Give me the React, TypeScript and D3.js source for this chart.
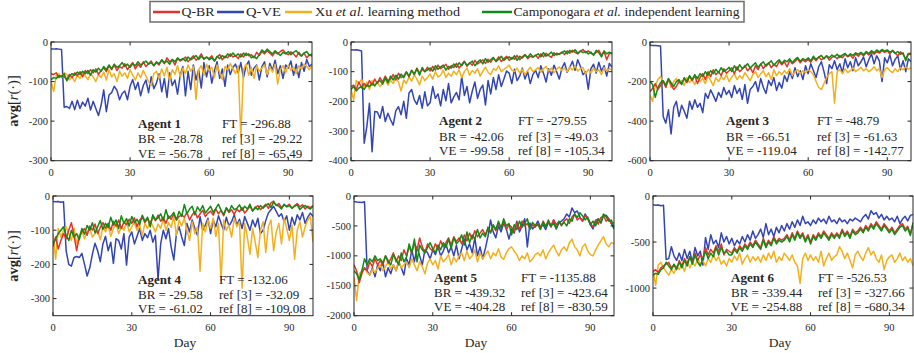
import React from 'react';
import * as d3 from 'd3';

// ---------------- data ----------------
const days = d3.range(100);
const xTicks = [0, 30, 60, 90];

// Agent 1
const a1BR = [-80,-82,-78,-90,-85,-88,-95,-82,-90,-78,-85,-75,-88,-72,-80,-70,-78,-68,-82,-72,-65,-75,-60,-70,-58,-72,-62,-66,-55,-70,-60,-52,-68,-56,-64,-50,-62,-55,-48,-60,-52,-58,-46,-55,-40,-50,-45,-58,-42,-48,-44,-38,-50,-42,-35,-46,-40,-30,-44,-38,-42,-35,-48,-38,-32,-45,-36,-40,-30,-38,-34,-42,-30,-38,-28,-35,-32,-40,-26,-34,-24,-30,-22,-28,-35,-26,-30,-24,-20,-28,-32,-25,-30,-38,-26,-35,-28,-40,-32,-36];
const a1Camp = [-95,-90,-92,-85,-88,-80,-98,-86,-80,-84,-76,-82,-74,-80,-72,-84,-70,-76,-66,-74,-62,-70,-58,-68,-56,-64,-60,-52,-62,-56,-64,-55,-60,-50,-58,-54,-48,-56,-52,-60,-50,-55,-45,-52,-48,-56,-44,-50,-40,-46,-42,-48,-38,-45,-40,-34,-44,-36,-42,-38,-45,-40,-48,-36,-42,-34,-40,-30,-36,-28,-36,-30,-38,-28,-34,-30,-40,-36,-42,-32,-20,-26,-18,-24,-30,-22,-28,-34,-26,-30,-24,-32,-26,-22,-30,-36,-28,-24,-34,-30];
const a1Xu = [-100,-125,-85,-80,-90,-78,-82,-96,-88,-100,-84,-92,-78,-86,-95,-80,-88,-100,-82,-90,-76,-96,-70,-88,-80,-100,-74,-86,-78,-92,-70,-84,-96,-78,-90,-72,-86,-100,-110,-80,-74,-92,-68,-86,-64,-98,-70,-82,-60,-88,-66,-80,-58,-74,-62,-145,-70,-60,-84,-56,-72,-64,-90,-58,-78,-95,-62,-70,-54,-68,-80,-60,-240,-70,-56,-84,-64,-92,-60,-74,-66,-58,-82,-62,-76,-56,-106,-70,-60,-78,-58,-72,-64,-80,-60,-68,-56,-62,-70,-58];
const a1VE = [-18,-18,-17,-18,-19,-165,-163,-168,-150,-171,-147,-168,-152,-162,-142,-172,-150,-168,-186,-160,-121,-176,-134,-128,-112,-122,-146,-130,-124,-146,-112,-95,-120,-102,-136,-110,-96,-128,-88,-118,-104,-80,-126,-92,-140,-78,-110,-96,-132,-84,-62,-136,-74,-120,-58,-96,-70,-116,-52,-88,-60,-104,-72,-50,-92,-68,-112,-58,-82,-64,-56,-78,-52,-90,-60,-48,-84,-66,-58,-96,-62,-50,-88,-54,-72,-46,-80,-60,-92,-58,-66,-48,-84,-56,-90,-52,-74,-44,-62,-56];

// Agent 2
const a2BR = [-150,-145,-160,-135,-155,-140,-150,-130,-145,-125,-140,-120,-135,-115,-130,-125,-110,-128,-105,-120,-115,-100,-118,-95,-110,-88,-105,-92,-100,-85,-98,-82,-95,-78,-90,-84,-75,-92,-80,-86,-72,-88,-76,-65,-82,-70,-78,-62,-74,-68,-60,-72,-58,-68,-55,-64,-50,-66,-56,-48,-62,-52,-58,-45,-60,-50,-42,-56,-48,-52,-44,-55,-40,-50,-38,-46,-52,-36,-44,-40,-34,-42,-30,-38,-28,-35,-40,-32,-25,-36,-30,-38,-42,-35,-28,-45,-32,-60,-38,-40];
const a2Camp = [-160,-150,-165,-155,-150,-160,-145,-150,-140,-148,-135,-130,-142,-120,-138,-115,-128,-112,-125,-108,-120,-102,-115,-96,-108,-90,-112,-86,-100,-94,-88,-98,-80,-92,-84,-78,-95,-82,-88,-74,-85,-70,-80,-66,-78,-72,-64,-80,-68,-60,-74,-56,-68,-60,-52,-66,-58,-48,-62,-54,-50,-58,-46,-62,-48,-54,-44,-52,-40,-50,-46,-40,-50,-36,-48,-42,-34,-46,-38,-42,-36,-30,-40,-28,-34,-26,-38,-30,-36,-32,-40,-34,-45,-28,-36,-50,-30,-40,-34,-38];
const a2Xu = [-160,-195,-130,-140,-125,-150,-135,-160,-130,-145,-135,-150,-140,-125,-145,-130,-140,-120,-135,-165,-128,-140,-118,-132,-110,-125,-145,-115,-130,-120,-108,-125,-100,-118,-112,-95,-120,-105,-115,-98,-110,-94,-120,-100,-88,-112,-96,-105,-90,-115,-98,-85,-102,-110,-90,-96,-80,-100,-92,-86,-78,-95,-100,-88,-104,-92,-110,-96,-85,-100,-94,-86,-102,-90,-82,-98,-88,-104,-92,-84,-96,-88,-100,-84,-94,-80,-98,-90,-86,-108,-92,-104,-88,-100,-94,-110,-86,-98,-90,-95];
const a2VE = [-26,-27,-26,-28,-30,-341,-285,-206,-370,-234,-236,-257,-217,-268,-240,-262,-280,-232,-218,-245,-200,-257,-172,-160,-195,-210,-180,-223,-168,-215,-205,-150,-190,-175,-215,-160,-198,-140,-205,-185,-170,-195,-116,-180,-150,-205,-165,-135,-190,-160,-145,-212,-130,-175,-120,-160,-110,-150,-125,-98,-105,-140,-92,-130,-115,-88,-125,-100,-140,-110,-95,-120,-80,-105,-135,-90,-112,-78,-100,-125,-88,-70,-102,-85,-65,-95,-60,-82,-110,-100,-159,-90,-75,-105,-68,-98,-80,-115,-72,-85];

// Agent 3
const a3BR = [-250,-235,-210,-240,-220,-200,-230,-190,-215,-240,-225,-200,-210,-185,-205,-175,-195,-170,-210,-180,-160,-190,-150,-175,-140,-165,-150,-170,-135,-158,-145,-130,-160,-125,-150,-138,-118,-145,-130,-155,-120,-140,-110,-135,-115,-105,-130,-112,-125,-98,-115,-100,-125,-92,-110,-98,-85,-105,-90,-100,-88,-102,-80,-95,-75,-90,-82,-70,-92,-78,-72,-85,-68,-80,-62,-75,-66,-82,-60,-72,-58,-70,-54,-66,-50,-62,-48,-56,-44,-52,-46,-60,-42,-55,-70,-50,-62,-85,-58,-65];
const a3Camp = [-200,-215,-280,-230,-205,-195,-220,-185,-205,-225,-200,-190,-215,-180,-200,-170,-190,-165,-185,-160,-175,-150,-168,-145,-160,-138,-155,-130,-150,-140,-128,-150,-120,-142,-115,-135,-125,-110,-132,-118,-105,-128,-112,-100,-122,-108,-95,-118,-102,-90,-108,-92,-100,-85,-105,-88,-78,-98,-84,-92,-80,-95,-72,-88,-76,-68,-85,-70,-80,-66,-75,-62,-78,-65,-58,-72,-60,-68,-55,-62,-52,-64,-48,-58,-44,-54,-40,-50,-38,-46,-40,-52,-45,-58,-48,-62,-55,-95,-60,-55];
const a3Xu = [-270,-300,-220,-190,-175,-200,-215,-185,-230,-200,-185,-210,-195,-220,-180,-205,-190,-215,-175,-200,-185,-210,-170,-195,-220,-180,-200,-175,-190,-165,-200,-178,-160,-190,-170,-185,-155,-175,-195,-165,-150,-180,-160,-145,-175,-155,-190,-140,-170,-150,-165,-145,-160,-135,-170,-150,-140,-160,-145,-155,-140,-150,-165,-200,-230,-240,-210,-180,-160,-150,-309,-150,-140,-160,-135,-155,-145,-130,-150,-140,-128,-145,-135,-150,-140,-125,-145,-135,-180,-140,-130,-145,-155,-135,-150,-128,-140,-125,-138,-130];
const a3VE = [-17,-18,-18,-19,-20,-377,-410,-343,-465,-330,-300,-377,-320,-350,-385,-300,-340,-292,-330,-310,-357,-259,-285,-242,-270,-300,-255,-280,-230,-265,-245,-280,-220,-260,-235,-290,-215,-310,-240,-225,-200,-250,-185,-230,-260,-195,-220,-180,-245,-205,-233,-170,-200,-150,-185,-130,-175,-145,-190,-120,-160,-110,-145,-180,-125,-100,-150,-210,-115,-135,-95,-140,-110,-155,-85,-130,-100,-145,-80,-120,-100,-75,-125,-90,-60,-110,-70,-95,-200,-80,-105,-65,-120,-88,-70,-140,-95,-150,-85,-100];

// Agent 4
const a4BR = [-148,-120,-155,-130,-110,-125,-100,-78,-115,-160,-120,-105,-95,-115,-88,-100,-82,-110,-92,-78,-95,-80,-100,-74,-88,-70,-95,-76,-84,-68,-80,-64,-90,-70,-62,-78,-66,-84,-60,-72,-56,-74,-62,-80,-58,-68,-52,-70,-60,-55,-62,-48,-70,-55,-46,-64,-52,-42,-60,-50,-44,-56,-38,-52,-42,-58,-36,-48,-40,-54,-38,-46,-34,-50,-40,-30,-44,-36,-28,-40,-32,-24,-36,-20,-15,-28,-22,-34,-26,-30,-24,-36,-28,-22,-32,-26,-38,-30,-34,-28];
const a4Camp = [-140,-125,-110,-100,-90,-115,-130,-100,-120,-110,-128,-95,-112,-86,-100,-78,-108,-90,-72,-98,-80,-92,-62,-85,-70,-95,-58,-80,-66,-88,-60,-78,-68,-84,-56,-74,-62,-90,-55,-70,-64,-52,-72,-40,-66,-58,-48,-70,-45,-60,-25,-52,-38,-30,-55,-32,-44,-28,-50,-40,-30,-48,-36,-24,-42,-54,-34,-46,-28,-40,-36,-26,-42,-30,-38,-24,-44,-32,-40,-28,-36,-28,-22,-34,-18,-26,-30,-38,-24,-32,-28,-36,-30,-26,-40,-32,-28,-34,-38,-30];
const a4Xu = [-110,-185,-95,-120,-100,-90,-110,-130,-95,-140,-115,-100,-125,-105,-95,-120,-110,-100,-128,-90,-105,-85,-118,-95,-80,-110,-90,-100,-75,-105,-90,-78,-100,-85,-115,-80,-95,-72,-88,-105,-82,-95,-68,-100,-78,-92,-60,-115,-70,-88,-65,-100,-130,-75,-110,-90,-220,-80,-105,-70,-95,-65,-118,-80,-250,-70,-100,-85,-120,-65,-90,-75,-270,-80,-120,-170,-95,-135,-180,-100,-75,-165,-90,-70,-160,-105,-80,-140,-65,-95,-130,-85,-185,-100,-75,-120,-90,-70,-60,-135];
const a4VE = [-16,-17,-16,-18,-17,-160,-200,-205,-180,-177,-180,-168,-200,-234,-210,-170,-138,-160,-192,-140,-118,-160,-135,-197,-125,-130,-155,-110,-202,-120,-105,-140,-118,-95,-130,-110,-122,-100,-135,-115,-245,-140,-100,-125,-95,-150,-187,-110,-90,-120,-145,-80,-105,-70,-95,-115,-60,-100,-85,-65,-110,-70,-90,-58,-80,-100,-62,-88,-75,-55,-85,-68,-95,-60,-80,-100,-70,-90,-65,-110,-100,-72,-50,-40,-30,-45,-60,-52,-75,-58,-100,-62,-85,-55,-70,-48,-80,-62,-50,-60];

// Agent 5
const a5BR = [-1150,-1250,-1450,-1300,-1200,-1250,-1100,-1180,-1050,-1150,-1080,-1150,-1000,-1120,-1050,-950,-1100,-1000,-1080,-900,-1000,-850,-950,-780,-900,-700,-850,-950,-800,-880,-920,-800,-880,-750,-850,-780,-700,-820,-680,-760,-700,-800,-650,-750,-620,-720,-580,-680,-620,-560,-650,-550,-600,-500,-580,-460,-520,-430,-560,-480,-520,-600,-450,-560,-420,-500,-460,-540,-480,-520,-460,-540,-420,-500,-440,-520,-400,-480,-430,-500,-420,-380,-460,-350,-300,-400,-360,-420,-330,-380,-450,-520,-400,-470,-360,-330,-420,-380,-460,-440];
const a5Camp = [-1250,-1300,-1400,-1250,-1050,-1150,-1050,-1100,-1000,-1080,-1050,-1120,-1000,-1080,-1150,-980,-1060,-1150,-950,-1100,-1020,-800,-950,-720,-1100,-820,-900,-950,-860,-780,-880,-950,-820,-900,-780,-860,-720,-880,-700,-800,-750,-650,-820,-600,-780,-650,-720,-560,-700,-620,-680,-520,-620,-480,-560,-420,-540,-380,-500,-460,-650,-480,-560,-420,-520,-460,-380,-560,-440,-500,-480,-560,-440,-520,-400,-500,-460,-540,-420,-480,-440,-500,-380,-420,-300,-360,-280,-330,-400,-350,-480,-420,-500,-380,-450,-300,-350,-420,-400,-540];
const a5Xu = [-1350,-1750,-1300,-1250,-1200,-1280,-1320,-1220,-1280,-1200,-1150,-1250,-1180,-1100,-1220,-1150,-1250,-1080,-1200,-1150,-1100,-1200,-1050,-1150,-1250,-1100,-1180,-1300,-1120,-1050,-1150,-1080,-1220,-1000,-1100,-1050,-980,-1150,-1020,-1100,-1000,-950,-1080,-920,-1050,-1000,-900,-1100,-950,-1050,-980,-920,-1050,-950,-1000,-880,-1020,-1060,-950,-880,-850,-920,-980,-1080,-1000,-1050,-950,-1100,-1050,-980,-950,-1000,-900,-1050,-950,-880,-820,-920,-1000,-900,-850,-920,-780,-720,-850,-900,-1000,-850,-800,-920,-980,-1000,-900,-820,-750,-680,-800,-850,-780,-800];
const a5VE = [-90,-100,-105,-110,-95,-1250,-1320,-1200,-1350,-1150,-1250,-1100,-1350,-1200,-1300,-1150,-1250,-1100,-1200,-1320,-1050,-1150,-900,-1100,-850,-1000,-1150,-900,-950,-1050,-900,-980,-850,-1000,-920,-800,-950,-850,-1000,-820,-1050,-880,-720,-900,-800,-950,-700,-1000,-850,-1050,-880,-680,-400,-600,-700,-500,-600,-450,-550,-720,-550,-620,-420,-600,-500,-380,-850,-450,-550,-500,-420,-520,-480,-560,-440,-500,-400,-550,-450,-420,-380,-300,-350,-200,-280,-250,-350,-420,-300,-380,-480,-550,-420,-380,-450,-330,-320,-380,-460,-550];

// Agent 6
const a6BR = [-820,-800,-830,-780,-760,-740,-720,-780,-750,-800,-700,-760,-680,-740,-660,-720,-620,-700,-640,-680,-560,-640,-580,-620,-540,-600,-520,-640,-580,-600,-620,-560,-600,-540,-580,-520,-560,-500,-540,-480,-520,-560,-460,-540,-480,-520,-440,-500,-460,-480,-460,-420,-480,-400,-460,-380,-440,-400,-480,-420,-500,-420,-460,-400,-440,-380,-420,-460,-400,-440,-400,-440,-360,-420,-380,-440,-360,-400,-380,-340,-380,-320,-360,-300,-340,-280,-320,-360,-300,-340,-380,-340,-400,-360,-320,-300,-360,-330,-410,-300];
const a6Camp = [-860,-840,-850,-800,-780,-720,-760,-800,-740,-790,-720,-780,-700,-760,-660,-740,-640,-720,-760,-680,-600,-680,-620,-660,-560,-640,-560,-620,-600,-640,-640,-580,-620,-560,-600,-540,-580,-520,-560,-500,-540,-580,-480,-560,-500,-540,-460,-520,-480,-500,-480,-440,-500,-420,-480,-400,-460,-420,-500,-440,-520,-440,-480,-420,-460,-400,-440,-480,-420,-460,-420,-460,-380,-440,-400,-460,-380,-420,-400,-360,-400,-340,-380,-320,-360,-300,-340,-380,-320,-360,-400,-360,-420,-380,-340,-320,-380,-350,-430,-290];
const a6Xu = [-800,-970,-750,-720,-780,-820,-860,-800,-840,-760,-800,-740,-820,-700,-780,-720,-760,-680,-740,-700,-760,-680,-720,-640,-700,-660,-740,-700,-760,-680,-720,-650,-700,-620,-740,-680,-640,-720,-660,-700,-660,-720,-640,-700,-620,-680,-600,-720,-660,-700,-620,-660,-700,-640,-720,-760,-950,-680,-620,-700,-640,-700,-660,-720,-600,-760,-680,-620,-700,-660,-640,-550,-600,-680,-620,-700,-780,-640,-600,-660,-700,-620,-560,-640,-600,-680,-720,-640,-800,-700,-660,-640,-720,-680,-620,-700,-660,-720,-680,-760];
const a6VE = [-95,-100,-98,-105,-100,-690,-680,-550,-650,-700,-620,-700,-580,-680,-600,-720,-560,-650,-600,-750,-450,-580,-420,-520,-480,-560,-400,-500,-440,-520,-460,-540,-480,-520,-440,-500,-420,-480,-380,-460,-420,-360,-450,-300,-420,-360,-440,-340,-400,-320,-380,-300,-360,-280,-340,-260,-320,-220,-300,-280,-320,-260,-300,-240,-280,-250,-300,-220,-280,-260,-300,-240,-280,-260,-300,-250,-270,-240,-260,-280,-230,-200,-250,-160,-200,-180,-240,-200,-260,-220,-260,-240,-280,-220,-300,-250,-220,-270,-210,-200];

const yDomains = [[-300, 0], [-400, 0], [-600, 0], [-350, 0], [-2000, 0], [-1300, 0]];
const yTicks = [
  [0, -100, -200, -300],
  [0, -100, -200, -300, -400],
  [0, -200, -400, -600],
  [0, -100, -200, -300],
  [0, -500, -1000, -1500, -2000],
  [0, -500, -1000],
];
const agentNames = ['Agent 1', 'Agent 2', 'Agent 3', 'Agent 4', 'Agent 5', 'Agent 6'];
const ftValues = ['-296.88', '-279.55', '-48.79', '-132.06', '-1135.88', '-526.53'];
const brValues = ['-28.78', '-42.06', '-66.51', '-29.58', '-439.32', '-339.44'];
const veValues = ['-56.78', '-99.58', '-119.04', '-61.02', '-404.28', '-254.88'];
const ref3Values = ['-29.22', '-49.03', '-61.63', '-32.09', '-423.64', '-327.66'];
const ref8Values = ['-65.49', '-105.34', '-142.77', '-109.08', '-830.59', '-680.34'];

const panelSeries = [
  [a1VE, a1Xu, a1BR, a1Camp],
  [a2VE, a2Xu, a2BR, a2Camp],
  [a3VE, a3Xu, a3BR, a3Camp],
  [a4VE, a4Xu, a4BR, a4Camp],
  [a5VE, a5Xu, a5BR, a5Camp],
  [a6VE, a6Xu, a6BR, a6Camp],
];

// ---------------- layout / styles ----------------
const COLORS = ['#3344b3', '#f2b01e', '#e8312a', '#138a13'];
const FONT = '"Liberation Serif", "DejaVu Serif", serif';
const TXT = '#262626';

const frames = [
  { x0: 51, x1: 312, y0: 42, y1: 160.7, ann: { lx: 138, rx: 222, b: [127.5, 143, 157.5] } },
  { x0: 351, x1: 612, y0: 42, y1: 160.7, ann: { lx: 439, rx: 518, b: [124.5, 140.5, 155] } },
  { x0: 650, x1: 911, y0: 42, y1: 160.7, ann: { lx: 726, rx: 817, b: [125, 140.5, 155] } },
  { x0: 53, x1: 313, y0: 196, y1: 315.7, ann: { lx: 138, rx: 219, b: [283.5, 298.5, 312.8] } },
  { x0: 354, x1: 614, y0: 196, y1: 315.7, ann: { lx: 434, rx: 521, b: [281.8, 296.8, 311.2] } },
  { x0: 653, x1: 913, y0: 196, y1: 315.7, ann: { lx: 731, rx: 818, b: [282, 296.8, 311.2] } },
];
const dayLabelX = [185, 476, 780];

function Panel({ idx }: { idx: number }) {
  const f = frames[idx];
  const x = d3.scaleLinear().domain([0, 99]).range([f.x0, f.x1]);
  const y = d3.scaleLinear().domain(yDomains[idx]).range([f.y1, f.y0]);
  const line = d3.line<number>().x((_, i) => x(days[i])).y((v) => y(v));
  const clipId = `clip${idx}`;
  const tl = 3.5;
  return (
    <g>
      <defs>
        <clipPath id={clipId}>
          <rect x={f.x0} y={f.y0} width={f.x1 - f.x0} height={f.y1 - f.y0} />
        </clipPath>
      </defs>
      <g clipPath={`url(#${clipId})`}>
        {panelSeries[idx].map((s, k) => (
          <path key={k} d={line(s) || ''} fill="none" stroke={COLORS[k]} strokeWidth={1.5} strokeLinejoin="round" />
        ))}
      </g>
      <rect x={f.x0} y={f.y0} width={f.x1 - f.x0} height={f.y1 - f.y0} fill="none" stroke="#262626" strokeWidth={1} />
      {xTicks.map((t) => (
        <g key={'x' + t}>
          <line x1={x(t)} x2={x(t)} y1={f.y1} y2={f.y1 - tl} stroke="#262626" />
          <line x1={x(t)} x2={x(t)} y1={f.y0} y2={f.y0 + tl} stroke="#262626" />
          <text x={x(t)} y={f.y1 + 15} textAnchor="middle" fontSize={10.5} fill={TXT} fontFamily={FONT}>{t}</text>
        </g>
      ))}
      {yTicks[idx].map((t) => (
        <g key={'y' + t}>
          <line x1={f.x0} x2={f.x0 + tl} y1={y(t)} y2={y(t)} stroke="#262626" />
          <line x1={f.x1} x2={f.x1 - tl} y1={y(t)} y2={y(t)} stroke="#262626" />
          <text x={f.x0 - 3} y={y(t) + 3.6} textAnchor="end" fontSize={10.5} fill={TXT} fontFamily={FONT}>{t}</text>
        </g>
      ))}
      <g fontFamily={FONT} fontSize={13} fill={TXT}>
        <text x={f.ann.lx} y={f.ann.b[0]} fontWeight="bold">{agentNames[idx]}</text>
        <text x={f.ann.lx} y={f.ann.b[1]}>{`BR = ${brValues[idx]}`}</text>
        <text x={f.ann.lx} y={f.ann.b[2]}>{`VE = ${veValues[idx]}`}</text>
        <text x={f.ann.rx} y={f.ann.b[0]}>{`FT = ${ftValues[idx]}`}</text>
        <text x={f.ann.rx} y={f.ann.b[1]}>{`ref [3] = ${ref3Values[idx]}`}</text>
        <text x={f.ann.rx} y={f.ann.b[2]}>{`ref [8] = ${ref8Values[idx]}`}</text>
      </g>
    </g>
  );
}

function YLabel({ cy }: { cy: number }) {
  return (
    <text transform={`translate(18,${cy}) rotate(-90)`} textAnchor="middle" fontFamily={FONT} fontSize={14.5} fill={TXT}>
      <tspan fontWeight="bold">avg</tspan>
      <tspan>[</tspan>
      <tspan fontStyle="italic">r</tspan>
      <tspan>(·)]</tspan>
    </text>
  );
}

const legendItems = [
  { color: COLORS[2], lx0: 153, lx1: 180, tx: 181.5, w: 33, parts: [['Q-BR', false]] },
  { color: COLORS[0], lx0: 217, lx1: 244, tx: 246, w: 35, parts: [['Q-VE', false]] },
  { color: COLORS[1], lx0: 285, lx1: 312, tx: 315, w: 145, parts: [['Xu ', false], ['et al.', true], [' learning method', false]] },
  { color: COLORS[3], lx0: 482, lx1: 512, tx: 513.5, w: 226, parts: [['Camponogara ', false], ['et al.', true], [' independent learning', false]] },
];

export default function App() {
  return (
    <svg width={914} height={353} style={{ position: 'absolute', left: 0, top: 0, background: '#fff' }}>
      <rect x={0} y={0} width={914} height={353} fill="#fff" />
      {frames.map((_, i) => <Panel key={i} idx={i} />)}
      <YLabel cy={101} />
      <YLabel cy={256} />
      {dayLabelX.map((cx, i) => (
        <text key={i} x={cx} y={346.5} textAnchor="middle" fontFamily={FONT} fontSize={13.5} fill={TXT}>Day</text>
      ))}
      <rect x={150} y={1.5} width={594} height={20.5} fill="#fff" stroke="#6e6e6e" strokeWidth={1.5} />
      {legendItems.map((it, i) => (
        <g key={i}>
          <line x1={it.lx0} x2={it.lx1} y1={12} y2={12} stroke={it.color} strokeWidth={2.5} />
          <text x={it.tx} y={16.3} fontFamily={FONT} fontSize={12.5} fill={TXT} textLength={it.w} lengthAdjust="spacingAndGlyphs">
            {it.parts.map((p, j) => (
              <tspan key={j} fontStyle={p[1] ? 'italic' : 'normal'}>{p[0] as string}</tspan>
            ))}
          </text>
        </g>
      ))}
    </svg>
  );
}
